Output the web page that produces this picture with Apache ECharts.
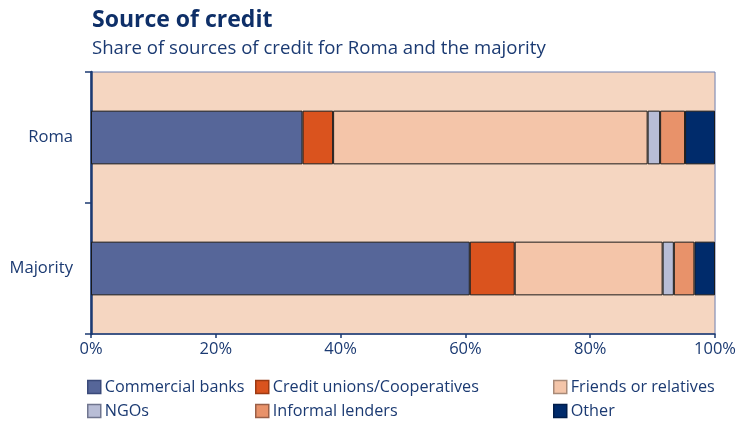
<!DOCTYPE html>
<html>
<head>
<meta charset="utf-8">
<script src="https://cdn.jsdelivr.net/npm/echarts@6/dist/echarts.min.js"></script>
<style>
  html, body { margin: 0; padding: 0; background: #fff; }
  #chart { width: 739px; height: 421px; }
</style>
</head>
<body>
<div id="chart"></div>
<script>
// Groups shown on the vertical axis (top to bottom)
const groups = ['Roma', 'Majority'];

// Share of each credit source, in percent, per group
const commercialBanks  = [33.9, 60.7];
const creditUnions     = [4.9, 7.2];
const friendsRelatives = [50.4, 23.7];
const ngos             = [2.0, 1.8];
const informalLenders  = [4.0, 3.3];
const other            = [4.8, 3.3];

// Percent axis ticks
const xTicks = [0, 20, 40, 60, 80, 100];

const seriesDefs = [
  { name: 'Commercial banks', data: commercialBanks, color: '#566699', border: '#3a4a7a' },
  { name: 'Credit unions/Cooperatives', data: creditUnions, color: '#DA531E', border: '#9c3a12' },
  { name: 'Friends or relatives', data: friendsRelatives, color: '#F4C5A9', border: '#a88a78' },
  { name: 'NGOs', data: ngos, color: '#B8BDD6', border: '#70768f' },
  { name: 'Informal lenders', data: informalLenders, color: '#E8926A', border: '#9a6048' },
  { name: 'Other', data: other, color: '#002B6B', border: '#001d4a' }
];

const textBlue = '#1B3A72';
const font = '"Open Sans", "Noto Sans", sans-serif';

const chart = echarts.init(document.getElementById('chart'), null, { renderer: 'canvas' });

// one legend entry per block, laid out in a 3 x 2 grid
const legendCols = [87, 255, 553];
const legendRows = [379, 403];
const legends = seriesDefs.map((s, i) => ({
  data: [{ name: s.name, itemStyle: { color: s.color, borderColor: s.border, borderWidth: 1.5 } }],
  left: legendCols[i % 3],
  top: legendRows[Math.floor(i / 3)],
  padding: 0,
  itemWidth: 13,
  itemHeight: 13,
  icon: 'rect',
  selectedMode: false,
  textStyle: { color: textBlue, fontSize: 16.2, fontFamily: font, padding: [0, 0, 0, -1] }
}));

chart.setOption({
  animation: false,
  title: [
    {
      text: 'Source of credit',
      left: 87, top: 4,
      textStyle: { color: '#0E2F68', fontSize: 23, fontWeight: 'bold', fontFamily: font }
    },
    {
      text: 'Share of sources of credit for Roma and the majority',
      left: 87, top: 34,
      textStyle: { color: textBlue, fontSize: 18.6, fontWeight: 'normal', fontFamily: font }
    }
  ],
  legend: legends,
  grid: {
    left: 91, right: 20, top: 72, bottom: 87,
    show: true,
    backgroundColor: '#F5D6C1',
    borderColor: '#6f7fae',
    borderWidth: 1
  },
  xAxis: {
    type: 'value',
    min: xTicks[0],
    max: xTicks[xTicks.length - 1],
    interval: 20,
    axisLine: { show: true, lineStyle: { color: '#1B3A72', width: 1.5 } },
    axisTick: { show: true, length: 4, lineStyle: { color: '#1B3A72', width: 1.5 } },
    splitLine: { show: false },
    axisLabel: {
      formatter: v => v + '%',
      color: textBlue, fontSize: 16.5, fontFamily: font, margin: 7
    }
  },
  yAxis: {
    type: 'category',
    data: groups,
    inverse: true,
    axisLine: { show: true, lineStyle: { color: '#1B3A72', width: 2.5 } },
    axisTick: { show: true, length: 6, lineStyle: { color: '#1B3A72', width: 1.5 } },
    axisLabel: { color: textBlue, fontSize: 16.6, fontFamily: font, margin: 18 }
  },
  series: seriesDefs.map(s => ({
    name: s.name,
    type: 'bar',
    stack: 'share',
    barWidth: '41%',
    data: s.data,
    itemStyle: { color: s.color, borderColor: '#1a1a1a', borderWidth: 1 },
    emphasis: { disabled: true }
  }))
});
</script>
</body>
</html>
